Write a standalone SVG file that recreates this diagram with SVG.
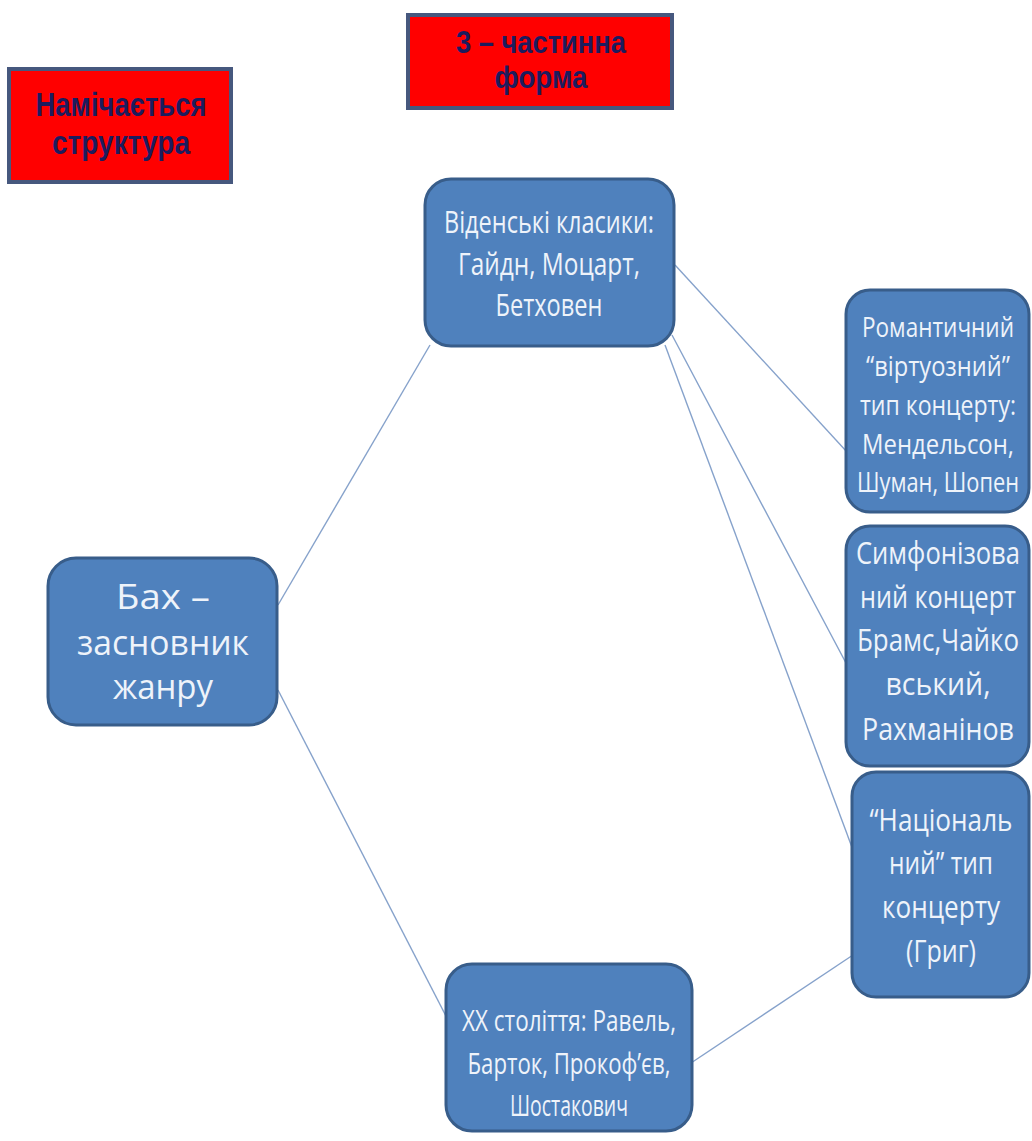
<svg xmlns="http://www.w3.org/2000/svg" width="1032" height="1141" viewBox="0 0 1032 1141">
<style>
.red{fill:#ff0000;stroke:#46587e;stroke-width:4}
.rt{font-family:"Liberation Sans Narrow","Liberation Sans",Arial,sans-serif;font-weight:bold;fill:#1c1c5e;text-anchor:middle}
.blue{fill:#4f81bd;stroke:#385d8a;stroke-width:3}
.bt{font-family:"Open Sans","Noto Sans","Liberation Sans",sans-serif;fill:#eef3fa;text-anchor:middle}
.c{stroke:#86a2cb;stroke-width:1.4;fill:none}
</style>
<rect width="1032" height="1141" fill="#ffffff"/>
<g id="connectors">
<line class="c" x1="278" y1="605" x2="430" y2="345"/>
<line class="c" x1="278" y1="690" x2="447" y2="1018"/>
<line class="c" x1="675" y1="265" x2="847" y2="452"/>
<line class="c" x1="672" y1="335" x2="846" y2="663"/>
<line class="c" x1="665" y1="345" x2="853" y2="850"/>
<line class="c" x1="691" y1="1063" x2="853" y2="955"/>
</g>
<g id="node-structure">
<rect class="red" x="9" y="69" width="222" height="113"/>
<text class="rt" x="121" y="116" font-size="34" textLength="171" lengthAdjust="spacingAndGlyphs">Намічається</text>
<text class="rt" x="121" y="154" font-size="34" textLength="138" lengthAdjust="spacingAndGlyphs">структура</text>
</g>
<g id="node-form">
<rect class="red" x="408" y="15" width="264" height="93"/>
<text class="rt" x="541" y="53" font-size="32" textLength="170" lengthAdjust="spacingAndGlyphs">3 – частинна</text>
<text class="rt" x="541" y="88" font-size="32" textLength="93" lengthAdjust="spacingAndGlyphs">форма</text>
</g>
<g id="node-vienna">
<rect class="blue" x="425" y="179" width="249" height="167" rx="26"/>
<text class="bt" x="549" y="233" font-size="31" textLength="210" lengthAdjust="spacingAndGlyphs">Віденські класики:</text>
<text class="bt" x="549" y="275" font-size="31" textLength="182" lengthAdjust="spacingAndGlyphs">Гайдн, Моцарт,</text>
<text class="bt" x="549" y="316" font-size="31" textLength="107" lengthAdjust="spacingAndGlyphs">Бетховен</text>
</g>
<g id="node-romantic">
<rect class="blue" x="846" y="290" width="183" height="222" rx="24"/>
<text class="bt" x="938" y="337" font-size="28" textLength="152" lengthAdjust="spacingAndGlyphs">Романтичний</text>
<text class="bt" x="938" y="376" font-size="28" textLength="144" lengthAdjust="spacingAndGlyphs">“віртуозний”</text>
<text class="bt" x="938" y="415" font-size="28" textLength="156" lengthAdjust="spacingAndGlyphs">тип концерту:</text>
<text class="bt" x="938" y="454" font-size="28" textLength="152" lengthAdjust="spacingAndGlyphs">Мендельсон,</text>
<text class="bt" x="938" y="492" font-size="28" textLength="162" lengthAdjust="spacingAndGlyphs">Шуман, Шопен</text>
</g>
<g id="node-symphonic">
<rect class="blue" x="846" y="526" width="183" height="240" rx="24"/>
<text class="bt" x="938" y="564" font-size="31" textLength="164" lengthAdjust="spacingAndGlyphs">Симфонізова</text>
<text class="bt" x="938" y="608" font-size="31" textLength="156" lengthAdjust="spacingAndGlyphs">ний концерт</text>
<text class="bt" x="938" y="651" font-size="31" textLength="162" lengthAdjust="spacingAndGlyphs">Брамс,Чайко</text>
<text class="bt" x="938" y="695" font-size="31" textLength="105" lengthAdjust="spacingAndGlyphs">вський,</text>
<text class="bt" x="938" y="740" font-size="31" textLength="152" lengthAdjust="spacingAndGlyphs">Рахманінов</text>
</g>
<g id="node-national">
<rect class="blue" x="852" y="772" width="177" height="225" rx="24"/>
<text class="bt" x="941" y="831" font-size="31" textLength="143" lengthAdjust="spacingAndGlyphs">“Національ</text>
<text class="bt" x="941" y="874" font-size="31" textLength="104" lengthAdjust="spacingAndGlyphs">ний” тип</text>
<text class="bt" x="941" y="918" font-size="31" textLength="118" lengthAdjust="spacingAndGlyphs">концерту</text>
<text class="bt" x="941" y="962" font-size="31" textLength="70" lengthAdjust="spacingAndGlyphs">(Григ)</text>
</g>
<g id="node-bach">
<rect class="blue" x="48" y="558" width="229" height="167" rx="28"/>
<text class="bt" x="163" y="609" font-size="34" textLength="94" lengthAdjust="spacingAndGlyphs">Бах –</text>
<text class="bt" x="163" y="655" font-size="34" textLength="172" lengthAdjust="spacingAndGlyphs">засновник</text>
<text class="bt" x="163" y="699" font-size="34" textLength="100" lengthAdjust="spacingAndGlyphs">жанру</text>
</g>
<g id="node-xx">
<rect class="blue" x="446" y="964" width="246" height="167" rx="26"/>
<text class="bt" x="569" y="1031" font-size="30" textLength="214" lengthAdjust="spacingAndGlyphs">ХХ століття: Равель,</text>
<text class="bt" x="569" y="1074" font-size="30" textLength="203" lengthAdjust="spacingAndGlyphs">Барток, Прокоф’єв,</text>
<text class="bt" x="569" y="1116" font-size="30" textLength="118" lengthAdjust="spacingAndGlyphs">Шостакович</text>
</g>
</svg>
